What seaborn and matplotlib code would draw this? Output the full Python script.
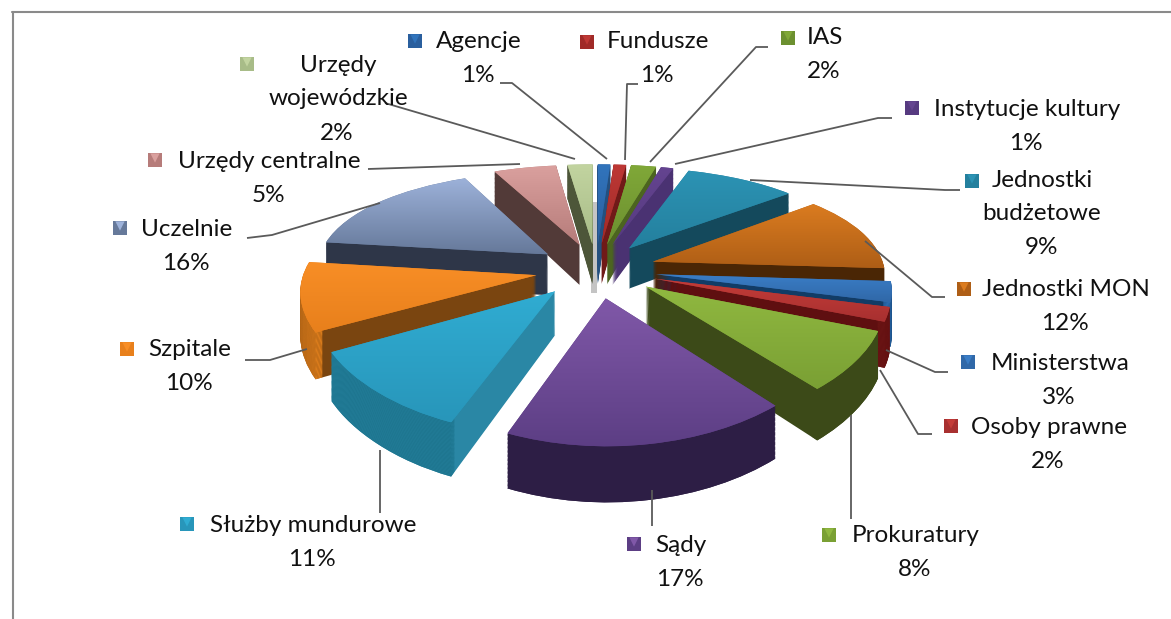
import numpy as np
import matplotlib
matplotlib.use('Agg')
import matplotlib.pyplot as plt
from matplotlib.colors import LinearSegmentedColormap
from matplotlib.transforms import Transform
import seaborn as sns

# Data
categories = ['Agencje', 'Fundusze', 'IAS', 'Instytucje kultury', 'Jednostki\nbudżetowe',
              'Jednostki MON', 'Ministerstwa', 'Osoby prawne', 'Prokuratury', 'Sądy',
              'Służby mundurowe', 'Szpitale', 'Uczelnie', 'Urzędy centralne', 'Urzędy\nwojewódzkie']
values = [1, 1, 2, 1, 9, 12, 3, 2, 8, 17, 11, 10, 16, 5, 2]

# Colours: top of slice (light, dark), radial wall, outer wall
top_light = ['#3174BC', '#BE3835', '#80A838', '#644490', '#2C93B4', '#DB7C20', '#3A7DC6', '#C43C38',
             '#90B840', '#8058A8', '#30ACD2', '#F88E26', '#9DB2DA', '#DAA09E', '#C2D4A0']
top_dark = ['#2A5F9E', '#A02A28', '#6C9030', '#563A80', '#24809E', '#AE5E16', '#3068A8', '#A83030',
            '#7AA034', '#5C3E84', '#2896BA', '#E8801C', '#66799A', '#B67C7A', '#A8BC88']
wall_colors = ['#24507F', '#701A18', '#4C6420', '#4A3272', '#14495C', '#4A2605', '#123C66', '#5F0F10',
               '#3C4A18', '#2D1E45', '#2A87A5', '#7A4510', '#2E3648', '#523A38', '#4D5639']
rim_colors = ['#24507F', '#701A18', '#4C6420', '#4A3272', '#14495C', '#4A2605', '#2A6AAE', '#6A1414',
              '#3C4A18', '#2D1E45', '#1E7690', '#DE7E1C', '#2E3648', '#523A38', '#4D5639']

# Label positions, pixels: key, name text, percent text
key_pos = [(415, 41), (587, 42), (788, 38), (912, 108), (972, 181), (964, 289), (968, 362), (951, 426),
           (829, 535), (634, 544), (187, 524), (127, 349), (120, 228), (155, 160), (247, 64)]
name_pos = [(479, 42), (658, 42), (825, 38), (1027, 109), (1042, 180), (1066, 290), (1060, 363), (1049, 427),
            (916, 535), (681, 545), (313, 525), (190, 350), (187, 229), (269, 161), (338, 65)]
leaders = [[(500, 83), (512, 83), (607, 159)], [(638, 84), (627, 84), (625, 160)],
           [(768, 47), (756, 47), (650, 162)], [(892, 118), (878, 118), (675, 164)],
           [(750, 180), (945, 190), (960, 190)], [(865, 241), (932, 297), (945, 297)],
           [(886, 350), (935, 372), (948, 372)], [(880, 370), (918, 434), (932, 434)],
           [(851, 415), (851, 519)], [(652, 490), (652, 526)], [(380, 450), (380, 513)],
           [(307, 349), (270, 360), (245, 360)], [(380, 203), (272, 235), (247, 238)],
           [(368, 169), (520, 164)], [(385, 103), (575, 159)]]

CX, CY = 596, 270
RX, RY = 232, 105
PERSP_X = 0.12
PERSP_Y = 0.2
DEPTH = 42
EXPLODE = 0.26
STEP = 1.0


class Persp(Transform):
    input_dims = 2
    output_dims = 2

    def __init__(self, z=0):
        super().__init__()
        self.z = z

    def transform_non_affine(self, xy):
        xy = np.asarray(xy, dtype=float)
        wx = 1 + PERSP_X * xy[:, 1]
        wy = 1 + PERSP_Y * xy[:, 1]
        return np.column_stack([CX + RX * xy[:, 0] / wx,
                                CY - RY * xy[:, 1] / wy + self.z / wy])


sns.set_theme(style='white')
plt.rcParams['font.family'] = ['Lato', 'DejaVu Sans']

fig = plt.figure(figsize=(11.71, 6.19), dpi=100)
ax = fig.add_axes([0, 0, 1, 1])

explode = [EXPLODE] * len(values)
pie_args = dict(explode=explode, startangle=90, counterclock=False)

# back slices first
mids = 90 - np.cumsum(np.r_[0, values[:-1]]) * 3.6 - np.array(values) * 1.8
order = np.argsort(np.argsort(-np.sin(np.deg2rad(mids))))

for z in np.arange(DEPTH, 0, -STEP):
    t = Persp(z)
    solid = ax.pie(values, colors=wall_colors, wedgeprops=dict(linewidth=0), **pie_args)[0]
    ring = ax.pie(values, colors=rim_colors, wedgeprops=dict(width=0.03, linewidth=0), **pie_args)[0]
    for i in range(len(values)):
        for w, dz in ((solid[i], 0), (ring[i], 0.0001)):
            w.set_transform(t + ax.transData)
            w.set_zorder(2 + order[i] + (DEPTH - z) / (DEPTH * 2) + dz)

# top faces with vertical gradient
t0 = Persp(0)
tops = ax.pie(values, colors=top_dark, wedgeprops=dict(linewidth=0), **pie_args)[0]
for i, w in enumerate(tops):
    w.set_transform(t0 + ax.transData)
    w.set_zorder(2 + order[i] + 0.6)
    pts = t0.transform(w.get_patch_transform().transform(w.get_path().vertices))
    cmap = LinearSegmentedColormap.from_list('g%d' % i, [top_light[i], top_dark[i]])
    im = ax.imshow(np.linspace(0, 1, 64).reshape(-1, 1), cmap=cmap, aspect='auto',
                   extent=(pts[:, 0].min(), pts[:, 0].max(), pts[:, 1].max(), pts[:, 1].min()),
                   zorder=2 + order[i] + 0.7)
    im.set_clip_path(w)

# grey strip seen through the gap at the back
ax.fill_between([591, 597], 202, 293, color='#C4C4C4', lw=0, zorder=1)

# leader lines
for pts in leaders:
    xs, ys = zip(*pts)
    ax.plot(xs, ys, color='#5A5A5A', lw=1.3, zorder=30, solid_capstyle='butt')

# labels
for i, cat in enumerate(categories):
    x, y = name_pos[i]
    n = cat.count('\n')
    ax.text(x, y + 17 * n, cat, ha='center', va='center', fontsize=17.5, color='#111111',
            linespacing=1.65, zorder=40)
    ax.text(x - 1, y + 34 * (n + 1), '%d%%' % values[i], ha='center', va='center', fontsize=17.5,
            color='#111111', zorder=40)

# bevelled keys
kx, ky = zip(*key_pos)
sns.scatterplot(x=kx, y=ky, hue=categories, palette=top_dark, marker='s', s=110, linewidth=0,
                legend=False, ax=ax, zorder=41)
ax.scatter(kx, np.array(ky) - 2, c=top_light, marker='v', s=45, linewidth=0, zorder=42)

# frame
ax.plot([12.5, 12.5], [619, 11.5], color='#8A8A8A', lw=1.5, zorder=50)
ax.plot([12, 1171], [11.5, 11.5], color='#8A8A8A', lw=1.5, zorder=50)

ax.set_aspect('auto')
ax.set_xlim(0, 1171)
ax.set_ylim(619, 0)
ax.axis('off')
fig.savefig('out.png', dpi=100)
